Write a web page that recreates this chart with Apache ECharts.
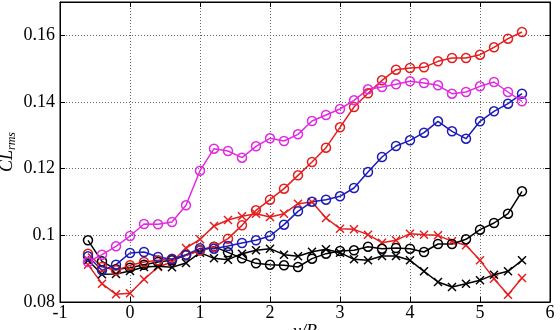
<!DOCTYPE html>
<html>
<head>
<meta charset="utf-8">
<script src="https://cdn.jsdelivr.net/npm/echarts@6/dist/echarts.min.js"></script>
<style>
  html, body { margin: 0; padding: 0; background: #fff; }
  #chart { width: 560px; height: 330px; }
</style>
</head>
<body>
<div id="chart"></div>
<script>
// y/B positions of the measurement points
const yB = [-0.6, -0.4, -0.2, 0, 0.2, 0.4, 0.6, 0.8, 1.0, 1.2, 1.4, 1.6, 1.8, 2.0, 2.2, 2.4,
  2.6, 2.8, 3.0, 3.2, 3.4, 3.6, 3.8, 4.0, 4.2, 4.4, 4.6, 4.8, 5.0, 5.2, 5.4, 5.6]

// CL rms, circle markers
const magentaO = [0.092, 0.0942, 0.0967, 0.0998, 0.1034, 0.1033, 0.104, 0.109, 0.1194, 0.126, 0.1253, 0.1233,
  0.1267, 0.1291, 0.1283, 0.1303, 0.1343, 0.1361, 0.1379, 0.1405, 0.1438, 0.1445, 0.1453, 0.1462,
  0.1457, 0.145, 0.1425, 0.143, 0.1447, 0.146, 0.143, 0.1402]
const redO = [0.0945, 0.0905, 0.0895, 0.091, 0.092, 0.0925, 0.093, 0.094, 0.0955, 0.0965, 0.099, 0.103,
  0.1075, 0.1107, 0.114, 0.118, 0.122, 0.1263, 0.1324, 0.1385, 0.1426, 0.1465, 0.1497, 0.1502,
  0.1504, 0.1522, 0.1532, 0.1532, 0.1542, 0.1564, 0.159, 0.161]
const blueO = [0.0937, 0.0895, 0.0912, 0.0947, 0.095, 0.0935, 0.0928, 0.0942, 0.0961, 0.096, 0.0968, 0.0977,
  0.0985, 0.0998, 0.1032, 0.1072, 0.1101, 0.1107, 0.1117, 0.1142, 0.119, 0.1235, 0.1268, 0.1285,
  0.1308, 0.1342, 0.1312, 0.129, 0.1342, 0.1372, 0.1395, 0.1425]
const blackO = [0.0985, 0.0922, 0.0898, 0.0903, 0.0912, 0.092, 0.0925, 0.094, 0.0955, 0.0966, 0.0949, 0.0931,
  0.0916, 0.0912, 0.091, 0.0905, 0.093, 0.0945, 0.0953, 0.0955, 0.0966, 0.096, 0.0962, 0.096,
  0.095, 0.0974, 0.0974, 0.0988, 0.1017, 0.1037, 0.1065, 0.1132]

// CL rms, cross markers
const redX = [0.0912, 0.0855, 0.0823, 0.0826, 0.0868, 0.0905, 0.092, 0.0962, 0.0988, 0.1028, 0.1046, 0.1057,
  0.1065, 0.1055, 0.1065, 0.1095, 0.11, 0.1052, 0.102, 0.1018, 0.1002, 0.0978, 0.0985, 0.1005,
  0.1002, 0.1, 0.0982, 0.097, 0.0925, 0.087, 0.0822, 0.0872]
const blackX = [0.0925, 0.0883, 0.0884, 0.0893, 0.0905, 0.0907, 0.0904, 0.0917, 0.0948, 0.0931, 0.0927, 0.0945,
  0.0955, 0.096, 0.0942, 0.0937, 0.0951, 0.0958, 0.0948, 0.0928, 0.0925, 0.0938, 0.0938, 0.0925,
  0.0892, 0.086, 0.0845, 0.0855, 0.0865, 0.0882, 0.0892, 0.0925]

const FONT = "'Liberation Serif', serif"
const CROSS = 'path://M0,0L10,10M10,0L0,10'

const makeSeries = (vals, color, marker) => ({
  type: 'line',
  data: yB.map((x, i) => [x, vals[i]]),
  symbol: marker === 'o' ? 'circle' : CROSS,
  symbolSize: marker === 'o' ? 9 : 8,
  lineStyle: { color: color, width: 1.5 },
  itemStyle: { color: 'transparent', borderColor: color, borderWidth: 1.5 },
  emphasis: { disabled: true }
})

const axisText = { fontFamily: FONT, fontSize: 18, color: '#000' }
const dotted = { show: true, lineStyle: { color: '#666', type: [1, 2], width: 1 } }
const blackLine = { onZero: false, lineStyle: { color: '#000' } }
const inTick = { inside: true, length: 5, lineStyle: { color: '#000' } }

const chart = echarts.init(document.getElementById('chart'))
chart.setOption({
  backgroundColor: '#fff',
  animation: false,
  grid: {
    left: 60, right: 10, top: 2, bottom: 28,
    outerBoundsMode: 'none', containLabel: false,
    show: true, borderColor: '#000', borderWidth: 1
  },
  xAxis: [
    {
      type: 'value', min: -1, max: 6, interval: 1,
      name: 'y/B', nameLocation: 'middle', nameGap: 21, nameMoveOverlap: false,
      nameTextStyle: { fontFamily: FONT, fontSize: 18, fontStyle: 'italic', color: '#000' },
      axisLine: blackLine,
      axisTick: inTick,
      axisLabel: Object.assign({ margin: 2 }, axisText),
      splitLine: dotted
    },
    {
      type: 'value', min: -1, max: 6, interval: 1, position: 'top',
      axisLine: blackLine, axisTick: inTick,
      axisLabel: { show: false }, splitLine: { show: false }
    }
  ],
  yAxis: [
    {
      type: 'value', min: 0.08, max: 0.17, interval: 0.02,
      name: '{a|CL}{b|rms}', nameLocation: 'middle', nameGap: 42, nameRotate: 90, nameMoveOverlap: false,
      nameTextStyle: {
        rich: {
          a: { fontFamily: FONT, fontSize: 18, fontStyle: 'italic', color: '#000' },
          b: { fontFamily: FONT, fontSize: 12, fontStyle: 'italic', color: '#000', padding: [10, 0, 0, 0] }
        }
      },
      axisLine: blackLine,
      axisTick: inTick,
      axisLabel: Object.assign({
        margin: 5, showMaxLabel: false,
        formatter: v => String(parseFloat(v.toFixed(2)))
      }, axisText),
      splitLine: dotted
    },
    {
      type: 'value', min: 0.08, max: 0.17, interval: 0.02, position: 'right',
      axisLine: blackLine, axisTick: inTick,
      axisLabel: { show: false }, splitLine: { show: false }
    }
  ],
  series: [
    makeSeries(redX, '#e41e1e', 'x'),
    makeSeries(blackX, '#000000', 'x'),
    makeSeries(blackO, '#000000', 'o'),
    makeSeries(redO, '#e41e1e', 'o'),
    makeSeries(blueO, '#1c1cb8', 'o'),
    makeSeries(magentaO, '#e02be0', 'o')
  ]
})
</script>
</body>
</html>
